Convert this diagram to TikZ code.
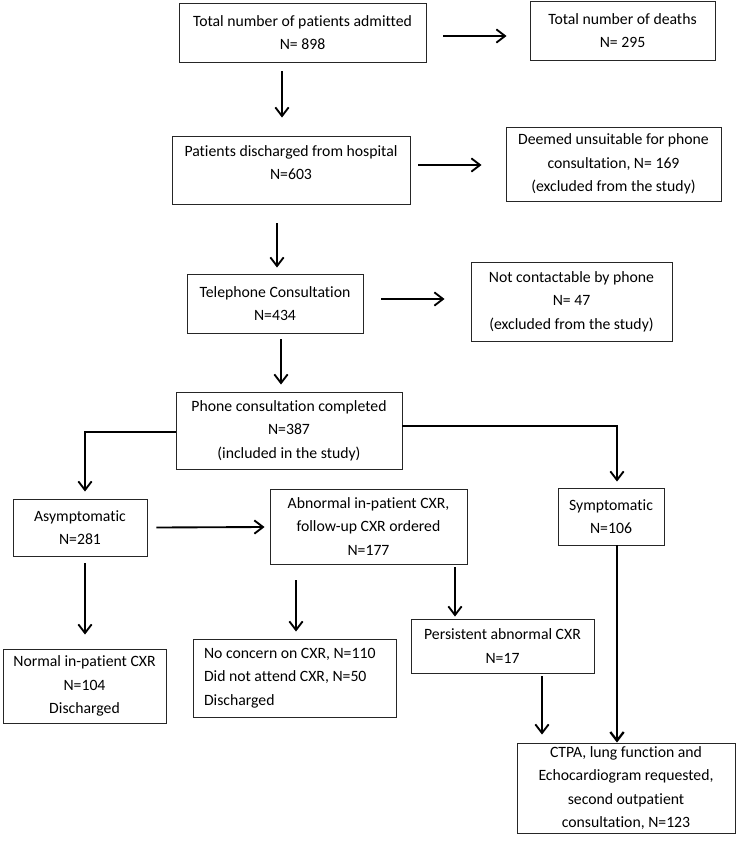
\documentclass[tikz,border=0pt]{standalone}
\usepackage{fontspec}
\setmainfont{Carlito}[Ligatures=NoCommon]
\usepackage{tikz}
\usetikzlibrary{calc,positioning,arrows.meta}

\tikzset{
  flowbox/.style={draw=black!85, line width=0.7pt, align=center, inner sep=0pt,
    font=\fontsize{11.8}{17.5}\selectfont},
  boxsize/.style 2 args={minimum width=#1*0.75pt, minimum height=#2*0.75pt},
  flowarrow/.style={-{Straight Barb[length=6.5pt,width=10pt]}, line width=1.4pt},
  flowline/.style={line width=1.7pt},
}

\begin{document}
\begin{tikzpicture}[x=0.75pt,y=-0.75pt]
\useasboundingbox (0,0) rectangle (739,842);
% boxes, top to bottom
\node[flowbox,boxsize={247}{59}] (admitted) at (302.5,32.5) {Total number of patients admitted\\N= 898};
\node[flowbox,boxsize={185}{59}] (deaths) at (622.5,30.5) {Total number of deaths\\N= 295};
\node[flowbox,boxsize={238}{68}] (discharged) at (291,170) {Patients discharged from hospital\\N=603\\[-6pt]\mbox{}};
\node[flowbox,boxsize={215}{74}] (unsuitable) at (613.5,164) {Deemed unsuitable for phone\\consultation, N= 169\\(excluded from the study)};
\node[flowbox,boxsize={176}{59}] (phone) at (275,303.5) {Telephone Consultation\\N=434};
\node[flowbox,boxsize={201}{79}] (nocontact) at (571.5,301.5) {Not contactable by phone\\N= 47\\(excluded from the study)};
\node[flowbox,boxsize={226}{77}] (completed) at (289,430.5) {Phone consultation completed\\N=387\\(included in the study)};
\node[flowbox,boxsize={134}{57}] (asympt) at (80,527.5) {Asymptomatic\\N=281};
\node[flowbox,boxsize={197}{75}] (abnormal) at (368.5,526.5) {Abnormal in-patient CXR,\\follow-up CXR ordered\\N=177};
\node[flowbox,boxsize={106}{57}] (sympt) at (611,516.5) {Symptomatic\\N=106};
\node[flowbox,boxsize={163}{74}] (normal) at (84.5,686) {Normal in-patient CXR\\N=104\\Discharged};
\node[flowbox,boxsize={203}{78},align=flush left,inner xsep=11*0.75pt,text width=181*0.75pt] (noconcern) at (294.5,678) {No concern on CXR, N=110\\Did not attend CXR, N=50\\Discharged};
\node[flowbox,boxsize={183}{54}] (persist) at (502.5,646) {Persistent abnormal CXR\\N=17};
\node[flowbox,boxsize={218}{90}] (ctpa) at (626,788) {CTPA, lung function and\\Echocardiogram requested,\\second outpatient\\consultation, N=123};

% arrows
\draw[flowarrow] ($(admitted.east)+(17,3.5)$) -- ($(deaths.west)+(-23,5.5)$);
\draw[flowarrow] ($(admitted.south)+(-20.5,9)$) -- ($(discharged.north)+(-9,-18)$);
\draw[flowarrow] ($(discharged.east)+(8,-5)$) -- ($(unsuitable.west)+(-24,1)$);
\draw[flowarrow] ($(discharged.south)+(-14,19)$) -- ($(phone.north)+(2,-6)$);
\draw[flowarrow] ($(phone.east)+(18,-4.5)$) -- ($(nocontact.west)+(-26,-2.5)$);
\draw[flowarrow] ($(phone.south)+(6,6)$) -- ($(completed.north)+(-8,-7)$);
\draw[flowline] ($(completed.west)+(0,1.5)$) -| ($(asympt.north)+(5,-14)$);
\draw[flowarrow] ($(asympt.north)+(5,-15)$) -- ($(asympt.north)+(5,-7)$);
\draw[flowline] ($(completed.east)+(0,-4.5)$) -| ($(sympt.north)+(6,-13)$);
\draw[flowarrow] ($(sympt.north)+(6,-14)$) -- ($(sympt.north)+(6,-6)$);
\draw[flowarrow] ($(asympt.east)+(9,0)$) -- ($(abnormal.west)+(-5,0.5)$);
\draw[flowarrow] ($(asympt.south)+(5,7)$) -- ($(normal.north)+(0.5,-14)$);
\draw[flowarrow] ($(abnormal.south)+(-72.5,16)$) -- ($(noconcern.north)+(1.5,-7)$);
\draw[flowarrow] ($(abnormal.south)+(86.5,3)$) -- ($(persist.north)+(-47.5,-2)$);
\draw[flowarrow] ($(persist.south)+(39.5,3)$) -- ($(ctpa.north)+(-84,-8)$);
\draw[flowarrow,line width=1.7pt] ($(sympt.south)+(6,0)$) -- ($(ctpa.north)+(-9,0)$);
\end{tikzpicture}
\end{document}
